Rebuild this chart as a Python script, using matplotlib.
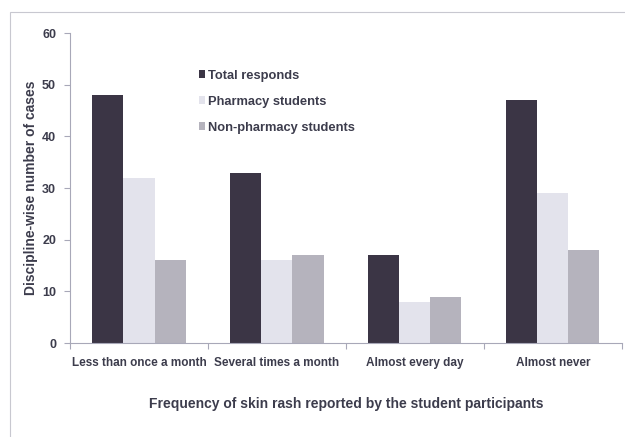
import numpy as np
import matplotlib.pyplot as plt
from matplotlib.patches import Rectangle

categories = ["Less than once a month", "Several times a month", "Almost every day", "Almost never"]
series_names = ["Total responds", "Pharmacy students", "Non-pharmacy students"]
total = [48, 33, 17, 47]
pharmacy = [32, 16, 8, 29]
non_pharmacy = [16, 17, 9, 18]

colors = ["#3b3545", "#e3e3ec", "#b5b3bd"]
txt = "#3c3c4c"
axcol = "#a8a8b8"

plt.rcParams['font.family'] = ['Liberation Sans', 'DejaVu Sans']

fig = plt.figure(figsize=(6.25, 4.37), dpi=100)
ax = fig.add_axes([0.112, 0.215, 0.883, 0.709])

# scanned page frame
fig.patches.append(Rectangle((0.016, -0.01), 1.0, 0.982, transform=fig.transFigure,
                             fill=False, edgecolor="#c8c8d0", linewidth=0.8))

x = np.arange(len(categories))
w = 0.225
for i, vals in enumerate([total, pharmacy, non_pharmacy]):
    ax.bar(x + (i - 1) * w, vals, w, color=colors[i], label=series_names[i])

ax.set_xlim(-0.5, 3.5)
ax.set_ylim(0, 60)
ax.set_yticks(range(0, 61, 10))
ax.set_xticks(np.arange(-0.5, 4.0, 1.0))
ax.set_xticklabels([])
ax.set_xticks(x, minor=True)
ax.set_xticklabels(categories, minor=True)
ax.tick_params(axis="x", which="minor", length=0, pad=10)
ax.tick_params(axis="x", which="major", length=4, color=axcol)
ax.tick_params(axis="y", length=4, color=axcol, pad=6)
for lab in ax.get_xticklabels(minor=True):
    lab.set_fontsize(8.5)
    lab.set_fontweight("bold")
    lab.set_color(txt)
for lab in ax.get_yticklabels():
    lab.set_fontsize(9)
    lab.set_fontweight("bold")
    lab.set_color(txt)

for s in ["top", "right"]:
    ax.spines[s].set_visible(False)
ax.spines["left"].set_color(axcol)
ax.spines["bottom"].set_color(axcol)

ax.set_ylabel("Discipline-wise number of cases", fontsize=10, fontweight="bold", color=txt, labelpad=3)
ax.set_xlabel("Frequency of skin rash reported by the student participants", fontsize=10,
              fontweight="bold", color=txt, labelpad=20)

leg = ax.legend(loc="upper left", bbox_to_anchor=(0.212, 0.92), frameon=False,
                handlelength=0.5, handleheight=0.5, handletextpad=0.25, labelspacing=1.08,
                prop={"size": 9.3, "weight": "bold"})
for t in leg.get_texts():
    t.set_color(txt)

fig.savefig("out.png", dpi=100)
